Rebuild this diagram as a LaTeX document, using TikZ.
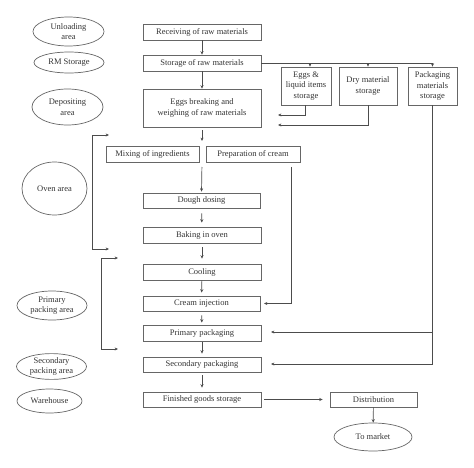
\documentclass[tikz,border=0pt]{standalone}
\usepackage{fontspec}
\setmainfont{Liberation Serif}
\usetikzlibrary{shapes.geometric,arrows.meta}
\begin{document}
\begin{tikzpicture}[x=1pt,y=-1pt,
  every node/.style={font=\fontsize{8.5}{10.5}\selectfont, text=black!80},
  box/.style={draw=black!60, line width=0.7pt, rectangle, inner sep=0pt, align=center},
  area/.style={draw=black!60, line width=0.7pt, ellipse, inner sep=0pt, align=center},
  ln/.style={draw=black!70, line width=0.7pt},
  arr/.style={ln, -{Stealth[length=3.4pt,width=3pt]}},
  arrtwo/.style={ln, {Stealth[length=3.4pt,width=3pt]}-{Stealth[length=3.4pt,width=3pt]}}
]
\useasboundingbox (0,0) rectangle (474,468);
% area ellipses
\node[area, minimum width=71pt, minimum height=29pt] (unl) at (68.5,31.5) {Unloading\\area};
\node[area, minimum width=70pt, minimum height=21pt] (rms) at (69,62.5) {RM Storage};
\node[area, minimum width=71pt, minimum height=36pt] (dep) at (67.5,107) {Depositing\\area};
\node[area, minimum width=65pt, minimum height=53pt] (oven) at (54.5,188.5) {Oven area};
\node[area, minimum width=70pt, minimum height=29pt] (prim) at (52,305.5) {Primary\\packing area};
\node[area, minimum width=70pt, minimum height=23pt] (sec) at (51.5,366.5) {Secondary\\packing area};
\node[area, minimum width=65pt, minimum height=24pt] (ware) at (49.5,401) {Warehouse};
% process boxes
\node[box, minimum width=118pt, minimum height=16pt] (recv) at (202,32) {Receiving of raw materials};
\node[box, minimum width=118pt, minimum height=16pt] (stor) at (202,63) {Storage of raw materials};
\node[box, minimum width=118pt, minimum height=38pt] (eggs) at (202,108) {Eggs breaking and\\weighing of raw materials};
\node[box, minimum width=50pt, minimum height=38pt] (egl) at (306,86) {Eggs \&\\liquid items\\storage};
\node[box, minimum width=58pt, minimum height=38pt] (dry) at (368,86) {Dry material\\storage};
\node[box, minimum width=49pt, minimum height=38pt] (pack) at (432.5,86) {Packaging\\materials\\storage};
\node[box, minimum width=93pt, minimum height=16pt] (mix) at (152.5,154) {Mixing of ingredients};
\node[box, minimum width=94pt, minimum height=16pt] (prep) at (253,154) {Preparation of cream};
\node[box, minimum width=117pt, minimum height=15pt] (dough) at (201.5,200.5) {Dough dosing};
\node[box, minimum width=118pt, minimum height=16pt] (bake) at (202,235) {Baking in oven};
\node[box, minimum width=118pt, minimum height=16pt] (cool) at (202,272) {Cooling};
\node[box, minimum width=117pt, minimum height=15pt] (cinj) at (201.5,303.5) {Cream injection};
\node[box, minimum width=118pt, minimum height=16pt] (ppack) at (202,333) {Primary packaging};
\node[box, minimum width=118pt, minimum height=15pt] (spack) at (202,364.5) {Secondary packaging};
\node[box, minimum width=118pt, minimum height=15pt] (fg) at (202,399.5) {Finished goods storage};
\node[box, minimum width=87pt, minimum height=15pt] (dist) at (373.5,399.5) {Distribution};
\node[area, minimum width=78pt, minimum height=28pt] (mkt) at (373,437) {To market};
% free-end coordinates
\coordinate (eggsTo) at (202,141);
\coordinate (mixOut) at (202,162);
\coordinate (eglIn) at (278,115);
\coordinate (dryIn) at (278,125);
\coordinate (prepOut) at (291,162);
\coordinate (cinjIn) at (264,303.5);
\coordinate (ppIn) at (271,332);
\coordinate (spIn) at (271,364);
\coordinate (ovT) at (109,135);
\coordinate (ovB) at (109,249);
\coordinate (pkT) at (118,258);
\coordinate (pkB) at (118,349);
% main flow
\draw[arr] (recv) -- (stor);
\draw[arr] (stor) -- (eggs);
\draw[arr, shorten <=3pt] (eggs.south) -- (eggsTo);
\draw[arr, shorten <=5pt, shorten >=1pt] (mixOut) -- (dough.north);
\draw[arr, shorten <=5pt, shorten >=4pt] (dough) -- (bake);
\draw[arr, shorten <=4pt, shorten >=5pt] (bake) -- (cool);
\draw[arr, shorten <=0pt, shorten >=3pt] (cool) -- (cinj);
\draw[arr, shorten <=4pt, shorten >=2pt] (cinj) -- (ppack);
\draw[arr, shorten <=1pt, shorten >=3pt] (ppack) -- (spack);
\draw[arr, shorten <=3pt, shorten >=4pt] (spack) -- (fg);
\draw[arr, shorten <=3pt, shorten >=7pt] (fg) -- (dist);
\draw[arr] (dist) -- (mkt);
% storage branches
\draw[arr] (stor.east) -| ([xshift=4pt]egl.north);
\draw[arr] (stor.east) -| (dry.north);
\draw[arr] (stor.east) -| (pack.north);
\draw[arr] ([xshift=-1pt]egl.south) |- (eglIn);
\draw[arr] (dry.south) |- (dryIn);
\draw[arr] (pack.south) |- (ppIn);
\draw[arr] (pack.south) |- (spIn);
\draw[arr, shorten <=5pt] (prepOut) |- (cinjIn);
% area brackets
\draw[arrtwo] (ovT) -- ++(-17,0) |- (ovB);
\draw[arrtwo] (pkT) -- ++(-17,0) |- (pkB);
\end{tikzpicture}
\end{document}
